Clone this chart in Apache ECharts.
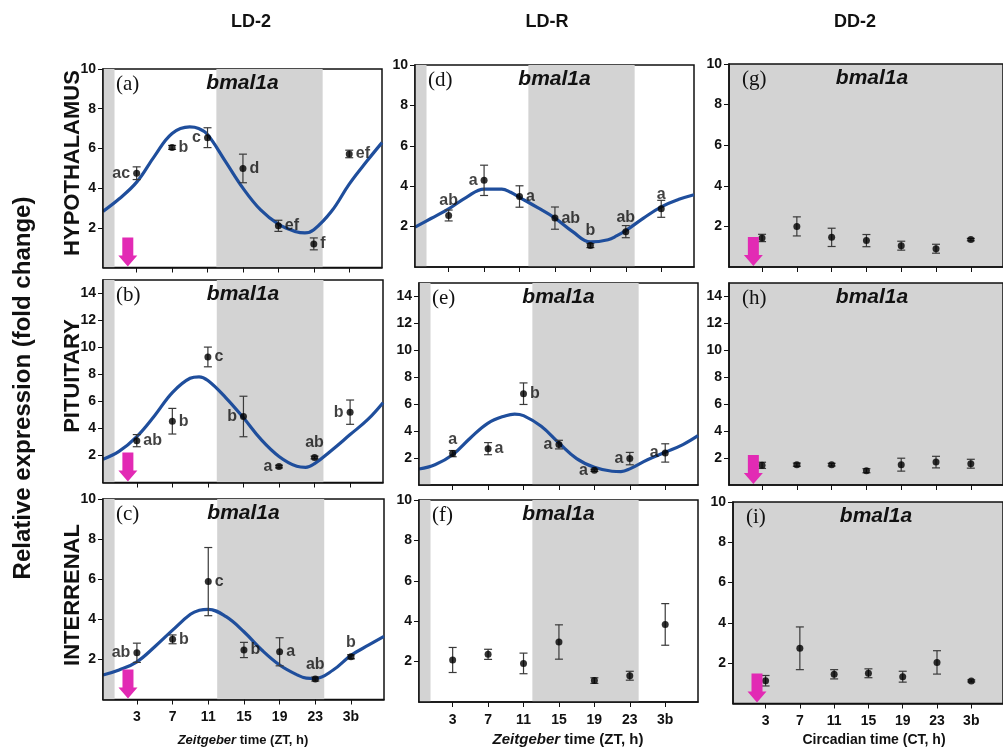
<!DOCTYPE html>
<html>
<head>
<meta charset="utf-8">
<script src="https://cdn.jsdelivr.net/npm/echarts@6/dist/echarts.min.js"></script>
<style>
  html, body { margin: 0; padding: 0; background: #fff; }
  #main { width: 1003px; height: 754px; }
</style>
</head>
<body>
<div id="main"></div>
<script>
// sampling times (3b = 27)
const times = [3, 7, 11, 15, 19, 23, 27]
const timeNames = ['3', '7', '11', '15', '19', '23', '3b']
const curveX = [-0.8, 1, 3, 5, 7, 9, 10, 11, 13, 15, 17, 19, 21, 22, 23, 25, 27, 29, 30.7]

// (a) hypothalamus LD-2
const aMean = [4.75, 6.05, 6.54, 4.99, 2.1, 1.19, 5.72]
const aSe = [0.32, 0.1, 0.5, 0.72, 0.28, 0.3, 0.19]
const aLetters = ['ac', 'b', 'c', 'd', 'ef', 'f', 'ef']
const aCurve = [2.83, 3.45, 4.3, 5.6, 6.75, 7.08, 7.0, 6.7, 5.36, 4.0, 2.9, 2.19, 1.8, 1.74, 1.9, 2.83, 4.2, 5.36, 6.29]
// (b) pituitary LD-2
const bMean = [3.1, 4.54, 9.3, 4.89, 1.18, 1.85, 5.21]
const bSe = [0.45, 0.95, 0.73, 1.5, 0.1, 0.1, 0.9]
const bLetters = ['ab', 'b', 'c', 'b', 'a', 'ab', 'b']
const bCurve = [1.73, 2.3, 3.4, 4.95, 6.66, 7.72, 7.83, 7.55, 6.29, 4.79, 3.17, 1.93, 1.2, 1.12, 1.4, 2.43, 3.55, 4.67, 5.91]
// (c) interrenal LD-2
const cMean = [2.33, 3.0, 5.88, 2.47, 2.38, 1.02, 2.13]
const cSe = [0.48, 0.22, 1.7, 0.38, 0.7, 0.1, 0.1]
const cLetters = ['ab', 'b', 'c', 'b', 'a', 'ab', 'b']
const cCurve = [1.22, 1.47, 1.88, 2.63, 3.46, 4.25, 4.45, 4.5, 4.13, 3.38, 2.47, 1.72, 1.22, 1.07, 1.05, 1.47, 2.2, 2.72, 3.15]
// (d) hypothalamus LD-R
const dMean = [2.55, 4.29, 3.49, 2.42, 1.06, 1.75, 2.88]
const dSe = [0.27, 0.75, 0.53, 0.55, 0.1, 0.3, 0.42]
const dLetters = ['ab', 'a', 'a', 'ab', 'b', 'ab', 'a']
const dCurve = [1.97, 2.4, 2.88, 3.45, 3.86, 3.86, 3.7, 3.45, 2.95, 2.42, 1.75, 1.24, 1.35, 1.55, 1.8, 2.42, 2.98, 3.35, 3.58]
// (e) pituitary LD-R
const eMean = [2.33, 2.7, 6.78, 3.0, 1.09, 1.96, 2.38]
const eSe = [0.23, 0.45, 0.8, 0.32, 0.08, 0.46, 0.68]
const eLetters = ['a', 'a', 'b', 'a', 'a', 'a', 'a']
const eCurve = [1.19, 1.51, 2.25, 3.49, 4.6, 5.15, 5.27, 5.15, 4.36, 3.12, 1.96, 1.31, 1.02, 1.0, 1.2, 1.88, 2.43, 3.0, 3.66]
// (f) interrenal LD-R
const fMean = [2.08, 2.36, 1.91, 2.97, 1.06, 1.3, 3.84]
const fSe = [0.62, 0.25, 0.51, 0.85, 0.14, 0.22, 1.03]
// (g) hypothalamus DD-2
const gMean = [1.43, 2.0, 1.46, 1.3, 1.05, 0.9, 1.35]
const gSe = [0.18, 0.47, 0.45, 0.3, 0.22, 0.22, 0.06]
// (h) pituitary DD-2
const hMean = [1.46, 1.51, 1.51, 1.06, 1.51, 1.7, 1.58]
const hSe = [0.23, 0.12, 0.1, 0.15, 0.48, 0.43, 0.33]
// (i) interrenal DD-2
const iMean = [1.13, 2.74, 1.45, 1.5, 1.33, 2.04, 1.12]
const iSe = [0.26, 1.06, 0.23, 0.22, 0.27, 0.58, 0.05]

const arrowTime = 2
const darkBands = [[-0.8, 0.5], [12, 24]]

const panels = [
  { tag: '(a)', mean: aMean, se: aSe, letters: aLetters, curve: aCurve, yMax: 10, col: 0, row: 0, arrow: true },
  { tag: '(b)', mean: bMean, se: bSe, letters: bLetters, curve: bCurve, yMax: 15, col: 0, row: 1, arrow: true },
  { tag: '(c)', mean: cMean, se: cSe, letters: cLetters, curve: cCurve, yMax: 10, col: 0, row: 2, arrow: true },
  { tag: '(d)', mean: dMean, se: dSe, letters: dLetters, curve: dCurve, yMax: 10, col: 1, row: 0, arrow: false },
  { tag: '(e)', mean: eMean, se: eSe, letters: eLetters, curve: eCurve, yMax: 15, col: 1, row: 1, arrow: false },
  { tag: '(f)', mean: fMean, se: fSe, letters: null, curve: null, yMax: 10, col: 1, row: 2, arrow: false },
  { tag: '(g)', mean: gMean, se: gSe, letters: null, curve: null, yMax: 10, col: 2, row: 0, arrow: true },
  { tag: '(h)', mean: hMean, se: hSe, letters: null, curve: null, yMax: 15, col: 2, row: 1, arrow: true },
  { tag: '(i)', mean: iMean, se: iSe, letters: null, curve: null, yMax: 10, col: 2, row: 2, arrow: true }
]

// where each letter sits next to its dot
const letterPos = [
  ['left', 'right', 'left', 'right', 'right', 'right', 'right'],
  ['right', 'right', 'right', 'left', 'left', 'top', 'left'],
  ['left', 'right', 'right', 'right', 'right', 'top', 'top'],
  ['top', 'left', 'right', 'right', 'top', 'top', 'top'],
  ['top', 'right', 'right', 'left', 'left', 'left', 'left']
]

// panel boxes in pixels: left, top, width, height
const boxes = [
  [103, 69, 279, 198.5], [103, 280, 280, 202.5], [103, 499, 281, 200.5],
  [415, 65, 279, 202], [419, 283, 279, 202], [419, 500, 279, 202],
  [729, 64, 286, 203], [729, 283, 286, 202], [733, 502, 286, 201.5]
]

const FONT = '"Liberation Sans", Arial, sans-serif'
const GRAY = '#d3d3d3'

let grids = []
let xAxes = []
let yAxes = []
let series = []
let graphics = []

panels.forEach((p, i) => {
  const b = boxes[i]
  grids.push({
    left: b[0], top: b[1], width: b[2], height: b[3],
    show: true, borderColor: '#111', borderWidth: 1.5,
    backgroundColor: p.col === 2 ? GRAY : 'transparent'
  })
  xAxes.push({
    type: 'value', gridIndex: i, min: -0.8, max: 30.7, z: 10,
    axisLine: { show: true, onZero: false, lineStyle: { color: '#111', width: 1.5 } },
    axisTick: { show: true, customValues: times, length: 5, lineStyle: { color: '#111' } },
    axisLabel: {
      show: p.row === 2, customValues: times, margin: 11,
      color: '#111', fontWeight: 'bold', fontSize: 14, fontFamily: FONT,
      formatter: v => timeNames[times.indexOf(v)]
    },
    splitLine: { show: false }
  })
  const yTicks = p.yMax === 15 ? [2, 4, 6, 8, 10, 12, 14] : [2, 4, 6, 8, 10]
  yAxes.push({
    type: 'value', gridIndex: i, min: 0, max: p.yMax, z: 10,
    axisLine: { show: true, onZero: false, lineStyle: { color: '#111', width: 1.5 } },
    axisTick: { show: true, customValues: yTicks, length: 5, lineStyle: { color: '#111' } },
    axisLabel: {
      customValues: yTicks, margin: 7,
      color: '#111', fontWeight: 'bold', fontSize: 14, fontFamily: FONT
    },
    splitLine: { show: false }
  })

  if (p.curve) {
    series.push({
      type: 'line', xAxisIndex: i, yAxisIndex: i, z: 3, silent: true,
      data: curveX.map((x, k) => [x, p.curve[k]]),
      smooth: 0.4, showSymbol: false,
      lineStyle: { color: '#1f4e9c', width: 3.2 }
    })
  }

  // error bars
  series.push({
    type: 'custom', xAxisIndex: i, yAxisIndex: i, z: 4, silent: true,
    data: times.map((t, k) => [t, p.mean[k] - p.se[k], p.mean[k] + p.se[k]]),
    encode: { x: 0, y: [1, 2] },
    renderItem: (params, api) => {
      const top = api.coord([api.value(0), api.value(2)])
      const bot = api.coord([api.value(0), api.value(1)])
      const w = 4
      const st = { stroke: '#3a3a3a', lineWidth: 1.2 }
      return {
        type: 'group',
        children: [
          { type: 'line', shape: { x1: top[0], y1: top[1], x2: bot[0], y2: bot[1] }, style: st },
          { type: 'line', shape: { x1: top[0] - w, y1: top[1], x2: top[0] + w, y2: top[1] }, style: st },
          { type: 'line', shape: { x1: bot[0] - w, y1: bot[1], x2: bot[0] + w, y2: bot[1] }, style: st }
        ]
      }
    }
  })

  // means with letters
  const scatter = {
    type: 'scatter', xAxisIndex: i, yAxisIndex: i, z: 5, silent: true,
    symbolSize: 7, itemStyle: { color: '#000' },
    data: times.map((t, k) => {
      let item = { value: [t, p.mean[k]] }
      if (p.letters) {
        item.label = {
          show: true, position: letterPos[i][k], distance: 3,
          formatter: p.letters[k],
          color: '#111', fontWeight: 'bold', fontSize: 16, fontFamily: FONT
        }
      }
      return item
    })
  }
  if (p.col < 2) {
    scatter.markArea = {
      silent: true,
      itemStyle: { color: GRAY, borderWidth: 0 },
      data: darkBands.map(d => [{ xAxis: d[0] }, { xAxis: d[1] }])
    }
  }
  series.push(scatter)

  if (p.arrow) {
    series.push({
      type: 'custom', xAxisIndex: i, yAxisIndex: i, z: 6, silent: true,
      data: [[arrowTime, 0]],
      renderItem: (params, api) => {
        const tip = api.coord([api.value(0), api.value(1)])
        const x = tip[0]
        const y = tip[1] - 1
        const len = 29, head = 11, hw = 9.5, sw = 5.5
        return {
          type: 'polygon',
          shape: {
            points: [
              [x - sw, y - len], [x + sw, y - len], [x + sw, y - head], [x + hw, y - head],
              [x, y], [x - hw, y - head], [x - sw, y - head]
            ]
          },
          style: { fill: '#e22ab4' }
        }
      }
    })
  }

  graphics.push({
    type: 'text', x: b[0] + 13, y: b[1] + 15, z: 100,
    style: {
      text: p.tag, fill: '#111', font: '21px "Liberation Serif", serif',
      align: 'left', verticalAlign: 'middle', textAlign: 'left', textVerticalAlign: 'middle'
    }
  })
  graphics.push({
    type: 'text', x: b[0] + b[2] / 2, y: b[1] + 14, z: 100,
    style: {
      text: 'bmal1a', fill: '#111', font: 'italic bold 21px ' + FONT,
      align: 'center', verticalAlign: 'middle', textAlign: 'center', textVerticalAlign: 'middle'
    }
  })
})

const colTitles = [['LD-2', 251], ['LD-R', 547], ['DD-2', 855]]
colTitles.forEach(c => {
  graphics.push({
    type: 'text', x: c[1], y: 22, z: 100,
    style: {
      text: c[0], fill: '#111', font: 'bold 18px ' + FONT,
      align: 'center', verticalAlign: 'middle', textAlign: 'center', textVerticalAlign: 'middle'
    }
  })
})

const rowTitles = [['HYPOTHALAMUS', 163], ['PITUITARY', 376], ['INTERRENAL', 595]]
rowTitles.forEach(r => {
  graphics.push({
    type: 'text', x: 73, y: r[1], rotation: Math.PI / 2, z: 100,
    style: {
      text: r[0], fill: '#111', font: 'bold 22px ' + FONT,
      align: 'center', verticalAlign: 'middle', textAlign: 'center', textVerticalAlign: 'middle'
    }
  })
})

graphics.push({
  type: 'text', x: 23, y: 388, rotation: Math.PI / 2, z: 100,
  style: {
    text: 'Relative expression (fold change)', fill: '#111', font: 'bold 24px ' + FONT,
    align: 'center', verticalAlign: 'middle', textAlign: 'center', textVerticalAlign: 'middle'
  }
})

const xTitles = [
  ['{i|Zeitgeber} time (ZT, h)', 243, 13],
  ['{i|Zeitgeber} time (ZT, h)', 568, 15],
  ['Circadian time (CT, h)', 874, 14]
]
xTitles.forEach(t => {
  graphics.push({
    type: 'text', x: t[1], y: 740, z: 100,
    style: {
      text: t[0], fill: '#111', fontSize: t[2], fontWeight: 'bold', fontFamily: FONT,
      rich: { i: { fontStyle: 'italic', fontWeight: 'bold', fontSize: t[2], fontFamily: FONT, fill: '#111' } },
      align: 'center', verticalAlign: 'middle', textAlign: 'center', textVerticalAlign: 'middle'
    }
  })
})

let myChart = echarts.init(document.getElementById('main'), null, { renderer: 'canvas' })
myChart.setOption({
  animation: false,
  backgroundColor: '#fff',
  grid: grids,
  xAxis: xAxes,
  yAxis: yAxes,
  series: series,
  graphic: graphics
})
</script>
</body>
</html>
